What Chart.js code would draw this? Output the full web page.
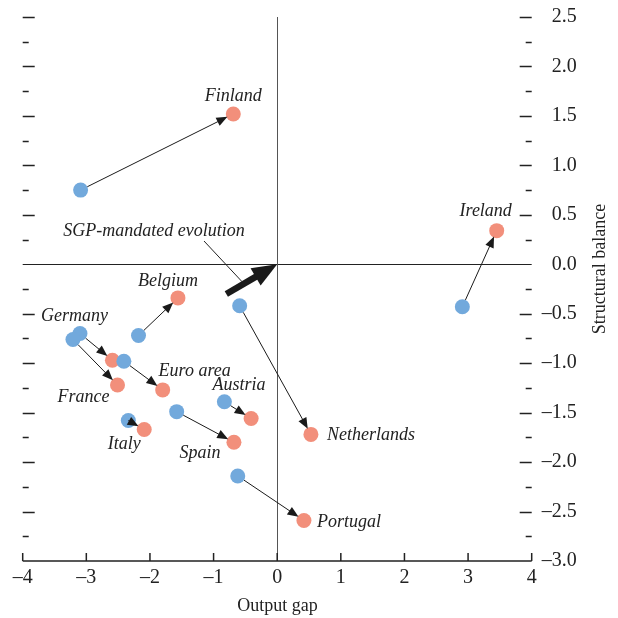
<!DOCTYPE html>
<html lang="en">
<head>
    <meta charset="UTF-8">
    <title>Output gap and structural balance</title>
    <style>
        html, body {
            margin: 0;
            padding: 0;
            background: #fff;
        }
        .wrap {
            width: 618px;
            height: 618px;
        }
    </style>
</head>
<body>
    <div class="wrap">
        <canvas id="gapChart"></canvas>
    </div>

    <script src="https://cdn.jsdelivr.net/npm/chart.js"></script>
    <script>
        // data
        const countries = ['Finland', 'Ireland', 'Belgium', 'Netherlands', 'Germany', 'France',
                           'Euro area', 'Austria', 'Italy', 'Spain', 'Portugal'];
        const gapStart = [-3.09, 2.91, -2.18, -0.59, -3.10, -3.21, -2.41, -0.83, -2.34, -1.58, -0.62];
        const balStart = [0.75, -0.43, -0.72, -0.42, -0.70, -0.76, -0.98, -1.39, -1.58, -1.49, -2.14];
        const gapEnd = [-0.69, 3.45, -1.56, 0.53, -2.59, -2.51, -1.80, -0.41, -2.09, -0.68, 0.42];
        const balEnd = [1.52, 0.34, -0.34, -1.72, -0.97, -1.22, -1.27, -1.56, -1.67, -1.80, -2.59];
        const sgpFrom = [-0.80, -0.30];
        const sgpTo = [0, 0];
        const xTicks = [-4, -3, -2, -1, 0, 1, 2, 3, 4];
        const yTicks = [2.5, 2.0, 1.5, 1.0, 0.5, 0.0, -0.5, -1.0, -1.5, -2.0, -2.5, -3.0];

        // label placement (pixels, relative to the end point)
        const labelOffset = {
            'Finland': [0, -18], 'Ireland': [-11, -19], 'Belgium': [-10, -17],
            'Netherlands': [60, 1], 'Germany': [-38, -44], 'France': [-34, 12],
            'Euro area': [32, -19], 'Austria': [-12, -33], 'Italy': [-20, 15],
            'Spain': [-34, 11], 'Portugal': [45, 2]
        };

        const BLUE = '#72a9dc';
        const RED = '#f28f7b';
        const SERIF = '"Liberation Serif", "DejaVu Serif", serif';

        function fmt(v, d) {
            const s = Math.abs(v).toFixed(d);
            return v < 0 ? '\u2013' + s : s;
        }

        function arrow(ctx, x1, y1, x2, y2, w, headLen, headW) {
            const a = Math.atan2(y2 - y1, x2 - x1);
            const bx = x2 - headLen * Math.cos(a);
            const by = y2 - headLen * Math.sin(a);
            ctx.lineWidth = w;
            ctx.beginPath();
            ctx.moveTo(x1, y1);
            ctx.lineTo(bx + Math.cos(a) * 2, by + Math.sin(a) * 2);
            ctx.stroke();
            ctx.beginPath();
            ctx.moveTo(x2, y2);
            ctx.lineTo(bx + headW * Math.sin(a), by - headW * Math.cos(a));
            ctx.lineTo(bx - headW * Math.sin(a), by + headW * Math.cos(a));
            ctx.closePath();
            ctx.fill();
        }

        const axesPlugin = {
            id: 'axesPlugin',
            beforeDatasetsDraw(chart) {
                const ctx = chart.ctx;
                const xs = chart.scales.x, ys = chart.scales.y;
                const area = chart.chartArea;
                ctx.save();

                // zero lines
                ctx.strokeStyle = '#222';
                ctx.lineWidth = 1;
                const y0 = Math.round(ys.getPixelForValue(0)) + 0.5;
                ctx.beginPath();
                ctx.moveTo(area.left, y0);
                ctx.lineTo(area.right, y0);
                ctx.stroke();
                ctx.strokeStyle = '#555';
                const x0 = Math.round(xs.getPixelForValue(0)) + 0.5;
                ctx.beginPath();
                ctx.moveTo(x0, area.top);
                ctx.lineTo(x0, area.bottom);
                ctx.stroke();

                // x axis with inward ticks
                ctx.strokeStyle = '#222';
                ctx.lineWidth = 1.5;
                ctx.beginPath();
                ctx.moveTo(area.left, area.bottom);
                ctx.lineTo(area.right, area.bottom);
                xTicks.forEach(v => {
                    const px = xs.getPixelForValue(v);
                    ctx.moveTo(px, area.bottom);
                    ctx.lineTo(px, area.bottom - 8);
                });
                ctx.stroke();

                // floating y ticks, both sides
                ctx.lineWidth = 1.6;
                ctx.beginPath();
                for (let v = 2.5; v > -2.9; v -= 0.25) {
                    if (Math.abs(v) < 1e-6) continue;
                    const py = Math.round(ys.getPixelForValue(v)) + 0.5;
                    const major = Math.abs(v * 2 - Math.round(v * 2)) < 1e-6;
                    const len = major ? 12 : 6;
                    ctx.moveTo(area.left, py);
                    ctx.lineTo(area.left + len, py);
                    ctx.moveTo(area.right - len, py);
                    ctx.lineTo(area.right, py);
                }
                ctx.stroke();

                // tick labels
                ctx.fillStyle = '#222';
                ctx.font = '20px ' + SERIF;
                ctx.textAlign = 'center';
                ctx.textBaseline = 'middle';
                xTicks.forEach(v => {
                    ctx.fillText(fmt(v, 0), xs.getPixelForValue(v), area.bottom + 17);
                });
                ctx.textAlign = 'right';
                yTicks.forEach(v => {
                    ctx.fillText(fmt(v, 1), area.right + 45, ys.getPixelForValue(v));
                });

                // axis titles
                ctx.font = '18px ' + SERIF;
                ctx.textAlign = 'center';
                ctx.fillText('Output gap', x0, area.bottom + 45);
                ctx.save();
                ctx.translate(area.right + 69, 269);
                ctx.rotate(-Math.PI / 2);
                ctx.fillText('Structural balance', 0, 0);
                ctx.restore();

                ctx.restore();
            },
            afterDatasetsDraw(chart) {
                const ctx = chart.ctx;
                const xs = chart.scales.x, ys = chart.scales.y;
                ctx.save();
                ctx.strokeStyle = '#1a1a1a';
                ctx.fillStyle = '#1a1a1a';
                const r = 7.5;

                // country arrows
                countries.forEach((c, i) => {
                    const x1 = xs.getPixelForValue(gapStart[i]);
                    const y1 = ys.getPixelForValue(balStart[i]);
                    const x2 = xs.getPixelForValue(gapEnd[i]);
                    const y2 = ys.getPixelForValue(balEnd[i]);
                    const d = Math.hypot(x2 - x1, y2 - y1);
                    const ux = (x2 - x1) / d, uy = (y2 - y1) / d;
                    const sx = d > 2 * r + 12 ? x1 + ux * r : x1;
                    const sy = d > 2 * r + 12 ? y1 + uy * r : y1;
                    arrow(ctx, sx, sy, x2 - ux * (r - 1), y2 - uy * (r - 1), 1, 11, 4.5);
                });

                // SGP-mandated evolution
                const ax = xs.getPixelForValue(sgpFrom[0]), ay = ys.getPixelForValue(sgpFrom[1]);
                const bx = xs.getPixelForValue(sgpTo[0]), by = ys.getPixelForValue(sgpTo[1]);
                ctx.lineCap = 'butt';
                arrow(ctx, ax, ay, bx, by, 6.5, 25, 10);

                // labels
                ctx.font = 'italic 18px ' + SERIF;
                ctx.textAlign = 'center';
                ctx.textBaseline = 'middle';
                ctx.fillStyle = '#222';
                countries.forEach((c, i) => {
                    const o = labelOffset[c];
                    ctx.fillText(c, xs.getPixelForValue(gapEnd[i]) + o[0], ys.getPixelForValue(balEnd[i]) + o[1]);
                });
                const lx = 154, ly = 231;
                ctx.fillText('SGP-mandated evolution', lx, ly);
                // leader line to the shaft
                const t = 0.31;
                ctx.lineWidth = 1;
                ctx.strokeStyle = '#222';
                ctx.beginPath();
                ctx.moveTo(lx + 50, ly + 10);
                ctx.lineTo(ax + (bx - ax) * t, ay + (by - ay) * t - 3);
                ctx.stroke();

                ctx.restore();
            }
        };

        const ctx = document.getElementById('gapChart').getContext('2d');
        new Chart(ctx, {
            type: 'scatter',
            data: {
                datasets: [{
                    label: 'Start',
                    data: gapStart.map((g, i) => ({ x: g, y: balStart[i] })),
                    backgroundColor: BLUE,
                    borderWidth: 0,
                    pointRadius: 7.5,
                    order: 1
                }, {
                    label: 'End',
                    data: gapEnd.map((g, i) => ({ x: g, y: balEnd[i] })),
                    backgroundColor: RED,
                    borderWidth: 0,
                    pointRadius: 7.5,
                    order: 2
                }]
            },
            options: {
                responsive: true,
                maintainAspectRatio: false,
                animation: false,
                layout: {
                    padding: { left: 22.7, right: 86.3, top: 17, bottom: 57 }
                },
                scales: {
                    x: { type: 'linear', min: -4, max: 4, display: false },
                    y: { type: 'linear', min: -3, max: 2.5, display: false }
                },
                plugins: {
                    legend: { display: false },
                    tooltip: { enabled: false }
                }
            },
            plugins: [axesPlugin]
        });
    </script>
</body>
</html>
